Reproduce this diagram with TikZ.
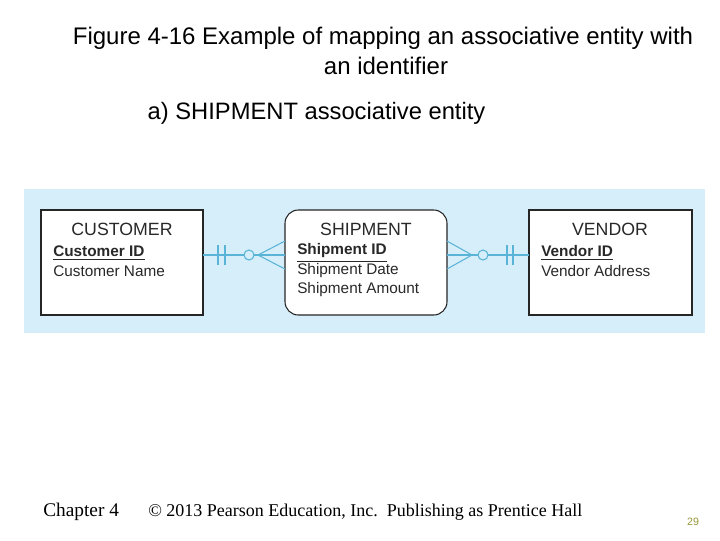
\documentclass[tikz,border=0pt]{standalone}
\usepackage{fontspec}
\setmainfont{Liberation Sans}
\newfontfamily\serifF{Liberation Serif}
\definecolor{panel}{RGB}{214,238,250}
\definecolor{conn}{RGB}{90,180,215}
\definecolor{txt}{RGB}{40,40,40}
\definecolor{pg}{RGB}{150,150,60}
\begin{document}
\begin{tikzpicture}[x=0.75pt,y=-0.75pt,
  ent/.style={draw=black!85,line width=0.8pt,fill=white},
  etitle/.style={font=\fontsize{13.3}{13}\selectfont,text=txt,inner sep=0},
  attr/.style={font=\fontsize{11.5}{12}\selectfont,text=txt,anchor=west,inner sep=0},
  ln/.style={draw=conn,line width=0.8pt}]
\useasboundingbox (0,0) rectangle (720,540);
\node[font=\fontsize{18}{18}\selectfont] (t1) at (383,38) {Figure 4-16 Example of mapping an associative entity with};
\node[font=\fontsize{18}{18}\selectfont] (t2) at (386,66) {an identifier};
\node[font=\fontsize{17.8}{18}\selectfont,anchor=west] (sub) at (143,113) {a) SHIPMENT associative entity};
\fill[panel] (24,189) rectangle (705,333);
\draw[ent] (41,210) rectangle (203,315);
\draw[ent,rounded corners=10pt] (285,210) rectangle (447,315);
\draw[ent] (529,210) rectangle (692,315);
\coordinate (c) at (203,255); \coordinate (s1) at (285,255);
\coordinate (s2) at (447,255); \coordinate (v) at (529,255);
\node[etitle] (cn) at (122,229) {CUSTOMER};
\node[attr,font=\fontsize{11.5}{12}\selectfont\bfseries] (ca) at (53,251) {Customer ID};
\draw[txt,line width=0.6pt] ([yshift=-2pt]ca.south west) -- ([yshift=-2pt]ca.south east);
\node[attr] (cb) at (53,271) {Customer Name};
\node[etitle] (sn) at (366,229) {SHIPMENT};
\node[attr,font=\fontsize{11.5}{12}\selectfont\bfseries] (sa) at (297,251) {Shipment ID};
\draw[txt,line width=0.6pt] ([yshift=-2pt]sa.south west) -- ([yshift=-2pt]sa.south east);
\node[attr] (sb) at (297,271) {Shipment Date};
\node[attr] (sc) at (297,290) {Shipment Amount};
\node[etitle] (vn) at (610,229) {VENDOR};
\node[attr,font=\fontsize{11.5}{12}\selectfont\bfseries] (va) at (541,251) {Vendor ID};
\draw[txt,line width=0.6pt] ([yshift=-2pt]va.south west) -- ([yshift=-2pt]va.south east);
\node[attr] (vb) at (541,271) {Vendor Address};
% left connector
\draw[ln] (c) -- (244,255);
\draw[ln] (218,245) -- (218,265) (225,245) -- (225,265);
\draw[ln] (249,255) circle (5);
\draw[ln] (254,255) -- (s1);
\draw[ln] (285,241) -- (258,255) -- (285,269);
% right connector
\draw[ln] (s2) -- (478,255);
\draw[ln] (447,241) -- (472,255) -- (447,269);
\draw[ln] (483,255) circle (5);
\draw[ln] (488,255) -- (v);
\draw[ln] (507,245) -- (507,265) (513,245) -- (513,265);
\node[font=\serifF\fontsize{14.5}{15}\selectfont,anchor=base west,inner sep=0] (ch) at (43,516) {Chapter 4};
\node[font=\serifF\fontsize{13.5}{15}\selectfont,anchor=base west,inner sep=0] (cp) at (148,516) {© 2013 Pearson Education, Inc.\ \ Publishing as Prentice Hall};
\node[font=\fontsize{8}{8}\selectfont,text=pg] (pn) at (693,522) {29};
\end{tikzpicture}
\end{document}
